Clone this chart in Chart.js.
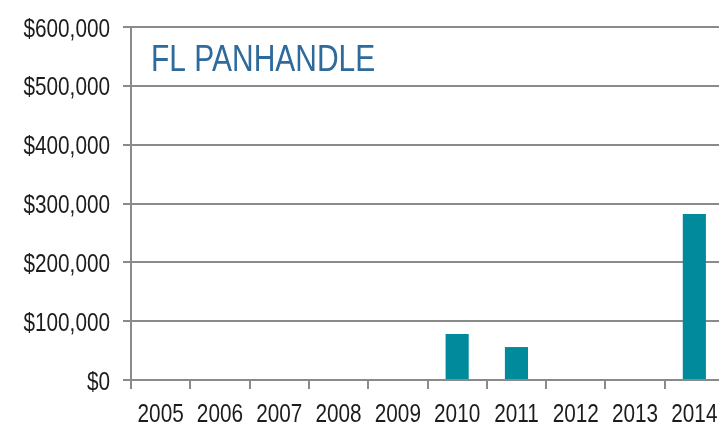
<!DOCTYPE html>
<html>
<head>
<meta charset="utf-8">
<script src="https://cdn.jsdelivr.net/npm/chart.js@4"></script>
<style>
  html, body { margin: 0; padding: 0; background: #fff; overflow: hidden; }
  #wrap { width: 724px; height: 424px; position: relative; }
</style>
</head>
<body>
<div id="wrap"><canvas id="chart"></canvas></div>
<script>
// data
var years = ['2005', '2006', '2007', '2008', '2009', '2010', '2011', '2012', '2013', '2014'];
var amounts = [0, 0, 0, 0, 0, 78000, 56000, 0, 0, 282000];
var yTicks = [0, 100000, 200000, 300000, 400000, 500000, 600000];
var chartTitle = 'FL PANHANDLE';

var gridColor = '#8a8a8a';
var textColor = '#1c1c1c';
var fontFamily = '"Liberation Sans", Arial, sans-serif';

function money(v) {
    return '$' + Number(v).toLocaleString('en-US');
}

// condensed-looking text: no narrow face installed, so squeeze horizontally
function drawNarrow(ctx, text, x, y, size, squeeze, align, color) {
    ctx.save();
    ctx.font = size + 'px ' + fontFamily;
    ctx.fillStyle = color;
    ctx.textBaseline = 'alphabetic';
    ctx.textAlign = align;
    ctx.translate(x, y);
    ctx.scale(squeeze, 1);
    ctx.fillText(text, 0, 0);
    ctx.restore();
}

// draws the tick labels at the library's own tick positions, plus the inner title
var narrowText = {
    id: 'narrowText',
    afterDraw: function(chart) {
        var ctx = chart.ctx;
        var area = chart.chartArea;
        var xs = chart.scales.x;
        var ys = chart.scales.y;

        ys.ticks.forEach(function(t, i) {
            drawNarrow(ctx, money(t.value), area.left - 21, ys.getPixelForTick(i) + 9.5,
                25, 0.83, 'right', textColor);
        });

        xs.ticks.forEach(function(t, i) {
            drawNarrow(ctx, xs.getLabelForValue(t.value), xs.getPixelForTick(i), area.bottom + 41.5,
                25, 0.83, 'center', textColor);
        });

        drawNarrow(ctx, chartTitle, area.left + 20, area.top + 44, 37, 0.81, 'left', '#2f6a9c');
    }
};

new Chart(document.getElementById('chart'), {
    type: 'bar',
    data: {
        labels: years,
        datasets: [{
            data: amounts,
            backgroundColor: '#008a9b',
            borderWidth: 0,
            barPercentage: 0.39,
            categoryPercentage: 1
        }]
    },
    options: {
        responsive: true,
        maintainAspectRatio: false,
        animation: false,
        layout: { padding: { top: 27, right: 0, bottom: 0, left: 0 } },
        plugins: {
            legend: { display: false },
            tooltip: { enabled: false }
        },
        scales: {
            x: {
                afterFit: function(scale) { scale.height = 44; },
                grid: {
                    display: true,
                    drawOnChartArea: false,
                    drawTicks: true,
                    tickLength: 9,
                    color: gridColor,
                    lineWidth: 2,
                    offset: true
                },
                border: { display: true, color: gridColor, width: 2 },
                ticks: {
                    color: 'rgba(0,0,0,0)',
                    autoSkip: false,
                    maxRotation: 0,
                    font: { family: fontFamily, size: 12 }
                }
            },
            y: {
                min: 0,
                max: 600000,
                afterFit: function(scale) { scale.width = 131; },
                afterBuildTicks: function(axis) {
                    axis.ticks = yTicks.map(function(v) { return { value: v }; });
                },
                grid: {
                    color: gridColor,
                    lineWidth: 2,
                    tickLength: 8
                },
                border: { display: true, color: gridColor, width: 2 },
                ticks: {
                    color: 'rgba(0,0,0,0)',
                    font: { family: fontFamily, size: 12 },
                    callback: money
                }
            }
        }
    },
    plugins: [narrowText]
});
</script>
</body>
</html>
